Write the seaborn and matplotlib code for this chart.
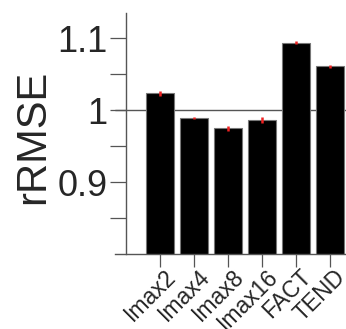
import matplotlib
matplotlib.use("Agg")
import matplotlib.pyplot as plt
import matplotlib.transforms as mtrans
import seaborn as sns
import pandas as pd
import numpy as np

methods = ["Imax2", "Imax4", "Imax8", "Imax16", "FACT", "TEND"]
rrmse = [1.0232, 0.9893, 0.9745, 0.986, 1.0935, 1.0607]
err = [0.004, 0.0015, 0.004, 0.004, 0.002, 0.0015]
yticks = [0.9, 1.0, 1.1]
yticklabels = ["0.9", "1", "1.1"]
minor_ticks = [0.85, 0.95, 1.05]

sns.set_style("white")
plt.rcParams["font.family"] = ["Liberation Sans", "DejaVu Sans"]

df = pd.DataFrame({"method": methods, "rRMSE": rrmse})

fig = plt.figure(figsize=(3.46, 3.29), dpi=100)
ax = fig.add_axes([115/346, 1-254/329, 1-115/346, (254-13)/329])

sns.barplot(data=df, x="method", y="rRMSE", color="black", edgecolor="#777777",
            linewidth=0.8, width=0.8, ax=ax, errorbar=None, saturation=1)
for p in ax.patches:
    p.set_facecolor("black")
ax.axhline(1.0, color="#555555", lw=1.0, zorder=0.5)
ax.errorbar(np.arange(len(methods)), rrmse, yerr=err, fmt="none",
            ecolor="#ee2222", elinewidth=1.8, capsize=0, zorder=5)

ax.set_ylim(0.8, 1.135)
ax.set_xlim(-1.32, 5.47)
ax.spines["left"].set_position(("data", -0.985))
for s in ["top", "right"]:
    ax.spines[s].set_visible(False)
for s in ["left", "bottom"]:
    ax.spines[s].set_color("#555555")
    ax.spines[s].set_linewidth(1.0)

ax.set_yticks(yticks)
ax.set_yticklabels(yticklabels, fontsize=26)
ax.set_yticks(minor_ticks, minor=True)
ax.tick_params(axis="y", which="both", direction="out", length=11.5, width=0.9,
               color="#555555", left=True, pad=2)
ax.tick_params(axis="x", direction="out", length=9, width=0.9, color="#555555",
               bottom=True, pad=0)
ax.set_xticks(range(len(methods)))
ax.set_xticklabels(methods, rotation=45, ha="right", va="top",
                   rotation_mode="anchor", fontsize=16.5)
for lab in ax.get_xticklabels():
    lab.set_transform(lab.get_transform() + mtrans.ScaledTranslation(4/100, 1/100, fig.dpi_scale_trans))
ax.set_xlabel("")
ax.set_ylabel("rRMSE", fontsize=30)
ax.yaxis.set_label_coords(-0.27, 0.485)

fig.savefig("out.png", dpi=100)
